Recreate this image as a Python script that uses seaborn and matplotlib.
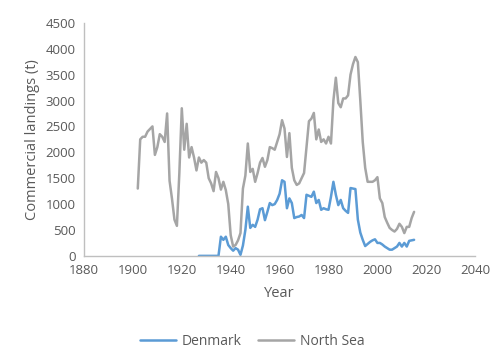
import numpy as np
import pandas as pd
import matplotlib
matplotlib.use("Agg")
import matplotlib.pyplot as plt
import seaborn as sns

# Commercial landings (tonnes) by year
north_sea_years = list(range(1902, 2016))
north_sea = [
    1300, 2250, 2300, 2300, 2400, 2450, 2500, 1950, 2100, 2350,   # 1902-1911
    2300, 2200, 2750, 1450, 1100, 700, 580, 1600, 2850, 2050,     # 1912-1921
    2550, 1900, 2100, 1900, 1650, 1900, 1800, 1850, 1800, 1500,   # 1922-1931
    1400, 1250, 1620, 1500, 1280, 1430, 1270, 1000, 400, 180,     # 1932-1941
    210, 300, 440, 1300, 1550, 2170, 1620, 1680, 1430, 1600,      # 1942-1951
    1800, 1890, 1720, 1850, 2100, 2080, 2050, 2200, 2350, 2620,   # 1952-1961
    2460, 1910, 2370, 1700, 1460, 1370, 1400, 1500, 1600, 2100,   # 1962-1971
    2600, 2650, 2760, 2250, 2440, 2200, 2250, 2170, 2300, 2170,   # 1972-1981
    3000, 3440, 2950, 2870, 3040, 3040, 3100, 3500, 3700, 3840,   # 1982-1991
    3740, 3000, 2200, 1700, 1430, 1430, 1430, 1460, 1520, 1110,   # 1992-2001
    1020, 750, 640, 540, 500, 470, 520, 620, 560, 440,            # 2002-2011
    560, 560, 730, 850,                                           # 2012-2015
]

denmark_years = list(range(1927, 2016))
denmark = [
    0, 0, 0, 0, 0, 0, 0, 0, 0, 370,                               # 1927-1936
    310, 370, 210, 150, 100, 150, 120, 20, 200, 500,              # 1937-1946
    950, 540, 600, 560, 700, 900, 920, 690, 850, 1020,            # 1947-1956
    980, 1000, 1080, 1200, 1460, 1430, 920, 1110, 1020, 730,      # 1957-1966
    750, 760, 790, 730, 1180, 1160, 1140, 1240, 1020, 1080,       # 1967-1976
    890, 920, 900, 890, 1140, 1430, 1180, 980, 1080, 920,         # 1977-1986
    870, 830, 1310, 1300, 1290, 700, 450, 310, 190, 230,          # 1987-1996
    270, 300, 320, 250, 250, 220, 180, 150, 120, 120,             # 1997-2006
    150, 180, 250, 180, 250, 180, 290, 300, 310,                  # 2007-2015
]

series_names = ["Denmark", "North Sea"]
series_colors = ["#5B9BD5", "#A5A5A5"]

df = pd.concat([
    pd.DataFrame({"Year": denmark_years, "Landings": denmark, "Series": series_names[0]}),
    pd.DataFrame({"Year": north_sea_years, "Landings": north_sea, "Series": series_names[1]}),
], ignore_index=True)

sns.set_style("white")
plt.rcParams["font.family"] = ["Open Sans", "DejaVu Sans"]

fig = plt.figure(figsize=(4.94, 3.51), dpi=100)
ax = fig.add_axes([0.170, 0.271, 0.792, 0.664])

sns.lineplot(data=df, x="Year", y="Landings", hue="Series",
             hue_order=series_names, palette=series_colors,
             linewidth=1.8, ax=ax, legend=False)

ax.set_xlim(1880, 2040)
ax.set_ylim(0, 4500)
ax.set_xticks(np.arange(1880, 2041, 20))
ax.set_yticks(np.arange(0, 4501, 500))

label_color = "#595959"
ax.tick_params(axis="both", length=0, labelsize=9.5, colors=label_color, pad=6)
ax.set_xlabel("Year", fontsize=10.5, color=label_color, labelpad=6)
ax.set_ylabel("Commercial landings (t)", fontsize=10.5, color=label_color, labelpad=4)

for side in ["top", "right"]:
    ax.spines[side].set_visible(False)
for side in ["left", "bottom"]:
    ax.spines[side].set_color("#BFBFBF")
    ax.spines[side].set_linewidth(1.0)

handles = [plt.Line2D([], [], color=c, linewidth=1.8) for c in series_colors]
leg = fig.legend(handles, series_names, loc="lower center", ncol=2,
                 bbox_to_anchor=(0.51, -0.03), frameon=False,
                 fontsize=10, handlelength=2.6, columnspacing=1.2,
                 handletextpad=0.4)
for t in leg.get_texts():
    t.set_color(label_color)

fig.savefig("out.png", dpi=100)
